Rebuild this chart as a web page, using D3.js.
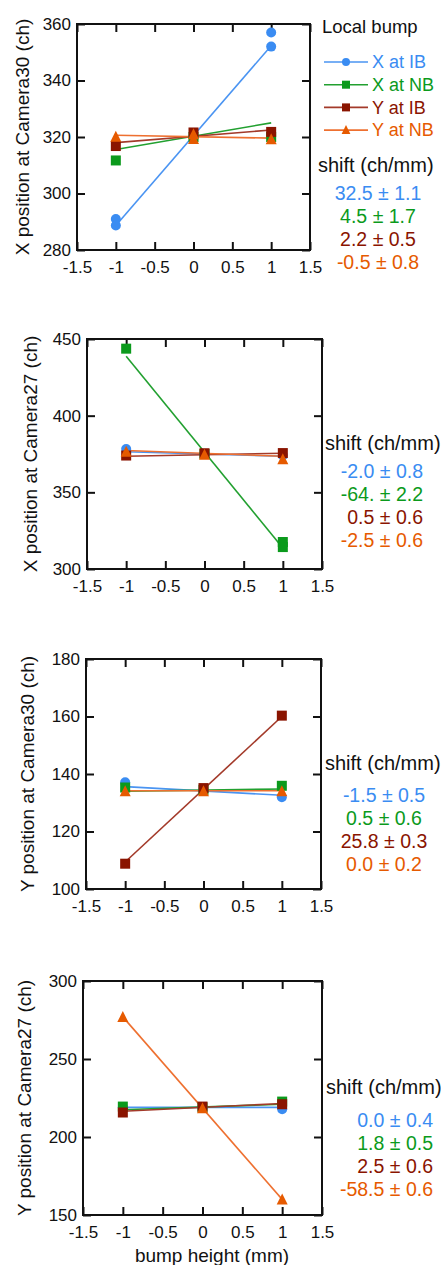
<!DOCTYPE html>
<html><head><meta charset="utf-8">
<script src="https://cdn.jsdelivr.net/npm/d3@7"></script>
<style>
body{margin:0;background:#fff;}
svg{display:block;font-family:"Liberation Sans",Arial,sans-serif;}
</style></head>
<body><svg id="c" width="441" height="1265"></svg>
<script>
// ---- data ----
const seriesNames = ["X at IB","X at NB","Y at IB","Y at NB"];
const seriesShapes = ["circle","square","square","triangle"];
const xTicks = [-1.5,-1,-0.5,0,0.5,1,1.5];
const fitX = [-1, 1];

// Panel 1: X position at Camera30
const cam30X_ticks = [280,300,320,340,360];
const cam30X_pts = [
  [[-1,291],[-1,288.7],[0,320],[1,357],[1,352]],
  [[-1,311.7],[0,320],[1,320]],
  [[-1,316.8],[0,321.6],[1,321.8]],
  [[-1,320.1],[0,321],[0,319.3],[1,319.2]]
];
const cam30X_fit = [[288.7,352.3],[315.6,325],[318,322.5],[320.6,319.6]];
const cam30X_shift = ["32.5 ± 1.1","4.5 ± 1.7","2.2 ± 0.5","-0.5 ± 0.8"];

// Panel 2: X position at Camera27
const cam27X_ticks = [300,350,400,450];
const cam27X_pts = [
  [[-1,378.3],[0,375],[1,374]],
  [[-1,443.7],[0,375],[1,317.6],[1,314.3]],
  [[-1,374],[0,375.5],[1,375.6]],
  [[-1,376.5],[0,374.5],[1,371.5]]
];
const cam27X_fit = [[376.5,373.5],[438.7,313.7],[373.5,375.5],[377.3,373.5]];
const cam27X_shift = ["-2.0 ± 0.8","-64. ± 2.2","0.5 ± 0.6","-2.5 ± 0.6"];

// Panel 3: Y position at Camera30
const cam30Y_ticks = [100,120,140,160,180];
const cam30Y_pts = [
  [[-1,137.1],[0,134.5],[1,131.9]],
  [[-1,135.3],[0,134.5],[1,135.9]],
  [[-1,108.8],[0,135.1],[1,160.3]],
  [[-1,134],[0,134],[1,134]]
];
const cam30Y_fit = [[135.6,132.6],[134,134.8],[109.4,160],[134.2,134.2]];
const cam30Y_shift = ["-1.5 ± 0.5","0.5 ± 0.6","25.8 ± 0.3","0.0 ± 0.2"];

// Panel 4: Y position at Camera27
const cam27Y_ticks = [150,200,250,300];
const cam27Y_pts = [
  [[-1,219],[0,219],[1,217.8]],
  [[-1,219.5],[0,219],[1,222.7]],
  [[-1,215.7],[0,219.5],[1,221]],
  [[-1,276.9],[0,218.5],[1,160]]
];
const cam27Y_fit = [[219,219],[217.5,221],[216.5,221.5],[277,160]];
const cam27Y_shift = ["0.0 ± 0.4","1.8 ± 0.5","2.5 ± 0.6","-58.5 ± 0.6"];

// ---- styles ----
const markerColors = ["#3a8cf2","#0b9a1c","#8a1400","#e65a00"];
const lineColors = ["#4a94f2","#22a030","#a33a2a","#ee7030"];

const panels = [
  {label:"X position at Camera30 (ch)", ticks:cam30X_ticks, pts:cam30X_pts, fit:cam30X_fit, shift:cam30X_shift,
   box:[77,310,24,250], ylx:22, legend:true, shiftTitle:[318,165], vals:{x:378,anchor:"middle",y0:193}},
  {label:"X position at Camera27 (ch)", ticks:cam27X_ticks, pts:cam27X_pts, fit:cam27X_fit, shift:cam27X_shift,
   box:[87,322,339,569], ylx:30, shiftTitle:[325,443], vals:{x:423,anchor:"end",y0:471}},
  {label:"Y position at Camera30 (ch)", ticks:cam30Y_ticks, pts:cam30Y_pts, fit:cam30Y_fit, shift:cam30Y_shift,
   box:[86,321,659,889], ylx:27, shiftTitle:[325,763], vals:{x:384,anchor:"middle",y0:795}},
  {label:"Y position at Camera27 (ch)", ticks:cam27Y_ticks, pts:cam27Y_pts, fit:cam27Y_fit, shift:cam27Y_shift,
   box:[83,322,981,1215], ylx:24, shiftTitle:[326,1087], vals:{x:433,anchor:"end",y0:1120}, xlabel:"bump height (mm)"}
];

const svg = d3.select("#c");
const FS = 17;

function drawMarker(g, shape, cx, cy, color, s) {
  if (shape === "circle") {
    g.append("circle").attr("cx",cx).attr("cy",cy).attr("r",s*0.5).attr("fill",color);
  } else if (shape === "square") {
    g.append("rect").attr("x",cx-s/2).attr("y",cy-s/2).attr("width",s).attr("height",s).attr("fill",color);
  } else {
    const h = s*1.0, w = s*1.1;
    g.append("path").attr("d",`M${cx},${cy-h/2-1}L${cx+w/2},${cy+h/2}L${cx-w/2},${cy+h/2}Z`).attr("fill",color);
  }
}

panels.forEach(p => {
  const [L,R,T,B] = p.box;
  const x = d3.scaleLinear().domain([-1.5,1.5]).range([L,R]);
  const y = d3.scaleLinear().domain(d3.extent(p.ticks)).range([B,T]);
  const g = svg.append("g");

  // axes
  const axB = d3.axisBottom(x).tickValues(xTicks).tickSizeInner(-8).tickSizeOuter(0).tickPadding(8)
     .tickFormat(d => String(d));
  const axT = d3.axisTop(x).tickValues(xTicks).tickSizeInner(-8).tickSizeOuter(0).tickFormat("");
  const axL = d3.axisLeft(y).tickValues(p.ticks).tickSizeInner(-8).tickSizeOuter(0).tickPadding(6)
     .tickFormat(d => String(d));
  const axR = d3.axisRight(y).tickValues(p.ticks).tickSizeInner(-8).tickSizeOuter(0).tickFormat("");
  const gb = g.append("g").attr("transform",`translate(0,${B})`).call(axB);
  const gt = g.append("g").attr("transform",`translate(0,${T})`).call(axT);
  const gl = g.append("g").attr("transform",`translate(${L},0)`).call(axL);
  const gr = g.append("g").attr("transform",`translate(${R},0)`).call(axR);
  [gb,gt,gl,gr].forEach(a => {
    a.select(".domain").remove();
    a.selectAll("line").attr("stroke","#111").attr("stroke-width",2);
    a.selectAll("text").attr("font-size",FS).attr("fill","#111").attr("font-family","Liberation Sans, Arial, sans-serif");
  });
  gb.selectAll("text").attr("dy","0.9em");
  g.append("rect").attr("x",L).attr("y",T).attr("width",R-L).attr("height",B-T)
    .attr("fill","none").attr("stroke","#111").attr("stroke-width",2);

  // y label
  g.append("text").attr("transform",`translate(${p.ylx},${(T+B)/2}) rotate(-90)`)
    .attr("text-anchor","middle").attr("dy","0.35em").attr("font-size",19).attr("fill","#111").text(p.label);

  // fit lines
  const line = d3.line().x(d => x(d[0])).y(d => y(d[1]));
  p.fit.forEach((f,i) => {
    g.append("path").datum(fitX.map((xv,k) => [xv, f[k]])).attr("d",line)
      .attr("fill","none").attr("stroke",lineColors[i]).attr("stroke-width",1.6);
  });
  // markers
  p.pts.forEach((ser,i) => {
    ser.forEach(d => drawMarker(g, seriesShapes[i], x(d[0]), y(d[1]), markerColors[i], 10));
  });

  // legend
  if (p.legend) {
    g.append("text").attr("x",322).attr("y",27).attr("dy","0.35em").attr("font-size",18.5).attr("fill","#111").text("Local bump");
    seriesNames.forEach((n,i) => {
      const cy = 62 + i*22.7;
      g.append("line").attr("x1",324).attr("x2",368).attr("y1",cy).attr("y2",cy)
        .attr("stroke",lineColors[i]).attr("stroke-width",1.6);
      drawMarker(g, seriesShapes[i], 346, cy, markerColors[i], 8);
      g.append("text").attr("x",372).attr("y",cy).attr("dy","0.35em").attr("font-size",18)
        .attr("fill",markerColors[i]).text(n);
    });
  }
  // shift
  g.append("text").attr("x",p.shiftTitle[0]).attr("y",p.shiftTitle[1]).attr("dy","0.35em")
    .attr("font-size",20).attr("fill","#111").text("shift (ch/mm)");
  p.shift.forEach((s,i) => {
    g.append("text").attr("x",p.vals.x).attr("y",p.vals.y0 + i*23).attr("dy","0.35em")
      .attr("text-anchor",p.vals.anchor).attr("font-size",19.5).attr("fill",markerColors[i]).text(s);
  });

  if (p.xlabel) {
    g.append("text").attr("x",212).attr("y",1255).attr("dy","0.35em").attr("text-anchor","middle")
      .attr("font-size",19).attr("fill","#111").text(p.xlabel);
  }
});
</script></body></html>
